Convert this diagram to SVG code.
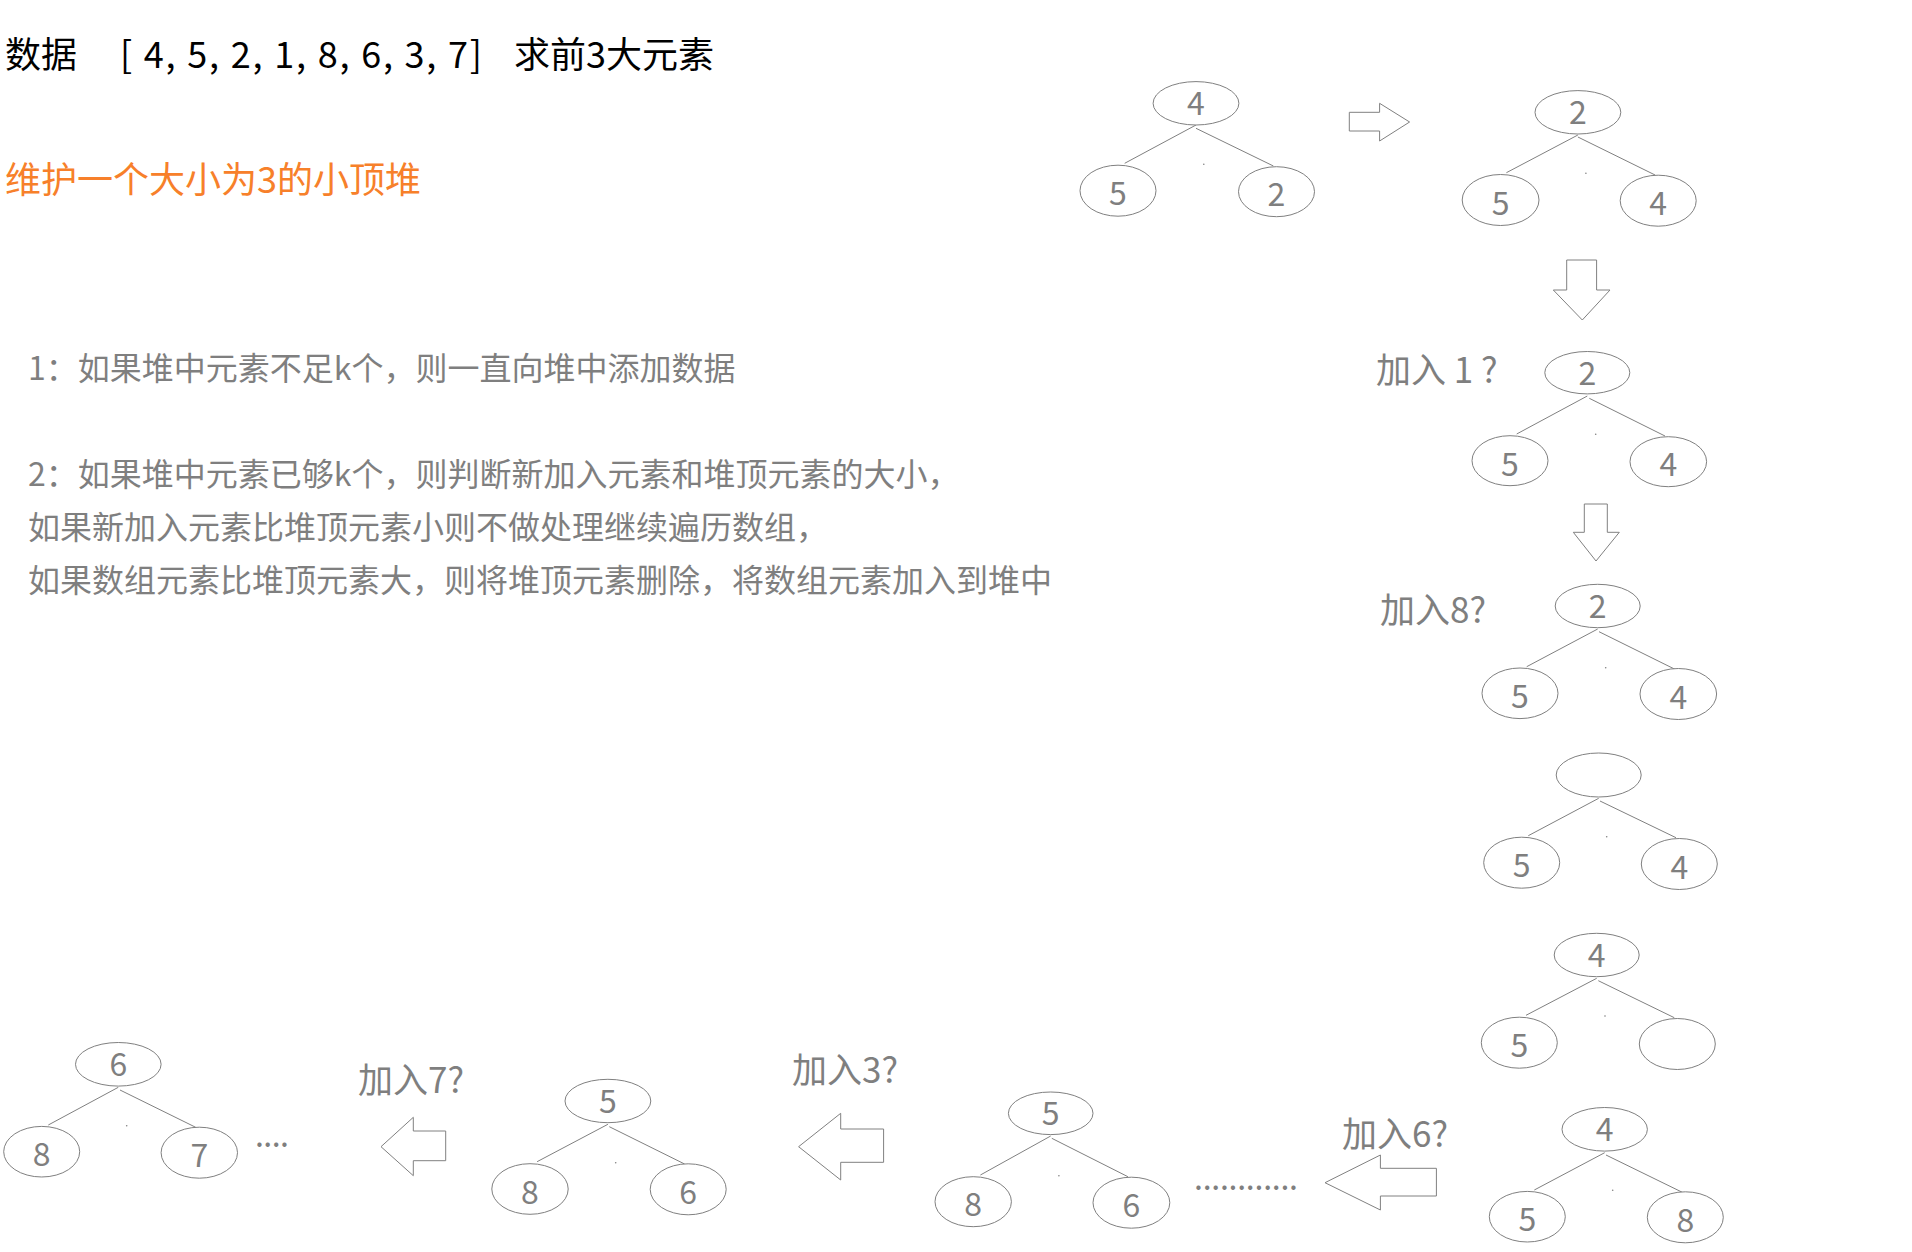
<svg xmlns="http://www.w3.org/2000/svg" width="1912" height="1252" viewBox="0 0 1912 1252">
<style>
.e{fill:#fff;stroke:#808080;stroke-width:1}
.l{stroke:#808080;stroke-width:1;fill:none}
.a{fill:#fff;stroke:#808080;stroke-width:1}
.d{fill:#808080}
.n{font-family:"Noto Sans CJK SC","Noto Sans",sans-serif;font-size:32px;fill:#7f7f7f;text-anchor:middle}
.t{font-family:"Noto Sans CJK SC","Noto Sans",sans-serif;font-size:36px;fill:#000}
.o{font-family:"Noto Sans CJK SC","Noto Sans",sans-serif;font-size:36px;fill:#f7802a}
.g{font-family:"Noto Sans CJK SC","Noto Sans",sans-serif;font-size:32px;fill:#7f7f7f}
.lb{font-family:"Noto Sans CJK SC","Noto Sans",sans-serif;font-size:35px;fill:#7f7f7f}
</style>
<rect width="1912" height="1252" fill="#fff"/>

<g id="texts">
<text class="t" x="5" y="68">数据</text>
<text class="t" x="120" y="68" textLength="362" lengthAdjust="spacing">[ 4, 5, 2, 1, 8, 6, 3, 7]</text>
<text class="t" x="514" y="68">求前3大元素</text>
<text class="o" x="5" y="193">维护一个大小为3的小顶堆</text>
<text class="g" x="28" y="380">1：如果堆中元素不足k个，则一直向堆中添加数据</text>
<text class="g" x="28" y="486">2：如果堆中元素已够k个，则判断新加入元素和堆顶元素的大小，</text>
<text class="g" x="28" y="539">如果新加入元素比堆顶元素小则不做处理继续遍历数组，</text>
<text class="g" x="28" y="592">如果数组元素比堆顶元素大，则将堆顶元素删除，将数组元素加入到堆中</text>
<text class="lb" x="1376" y="383">加入 1 ?</text>
<text class="lb" x="1380" y="623">加入8?</text>
<text class="lb" x="1342" y="1147">加入6?</text>
<text class="lb" x="792" y="1083">加入3?</text>
<text class="lb" x="358" y="1093">加入7?</text>
<text class="g" x="1194" y="1190" textLength="104" lengthAdjust="spacing">............</text>
<text class="g" x="255" y="1147" textLength="34" lengthAdjust="spacing">....</text>
</g>

<g id="connectors">
<line class="l" x1="1196" y1="125" x2="1124.7" y2="163.3"/>
<line class="l" x1="1196" y1="128.3" x2="1273.4" y2="166"/>
<line class="l" x1="1577.9" y1="135" x2="1506.4" y2="172.7"/>
<line class="l" x1="1577.9" y1="137" x2="1655.1" y2="175"/>
<line class="l" x1="1587.3" y1="396" x2="1516.7" y2="434"/>
<line class="l" x1="1589.3" y1="398.3" x2="1665" y2="436"/>
<line class="l" x1="1597.7" y1="629" x2="1526.7" y2="666.7"/>
<line class="l" x1="1599" y1="631.7" x2="1675" y2="669.3"/>
<line class="l" x1="1598.7" y1="798.3" x2="1528.3" y2="835.7"/>
<line class="l" x1="1600" y1="801" x2="1676" y2="837.7"/>
<line class="l" x1="1596.7" y1="978.3" x2="1526" y2="1015.3"/>
<line class="l" x1="1598.3" y1="980.7" x2="1674.3" y2="1017.7"/>
<line class="l" x1="1604.7" y1="1152.7" x2="1534.3" y2="1190"/>
<line class="l" x1="1606" y1="1155" x2="1682.3" y2="1192.3"/>
<line class="l" x1="1050.7" y1="1136" x2="980.4" y2="1175"/>
<line class="l" x1="1051.8" y1="1138.3" x2="1127.9" y2="1176.7"/>
<line class="l" x1="607.9" y1="1124.3" x2="537.1" y2="1161.7"/>
<line class="l" x1="609.3" y1="1126.7" x2="684.6" y2="1164"/>
<line class="l" x1="118.3" y1="1087.3" x2="48.3" y2="1125"/>
<line class="l" x1="120" y1="1090" x2="195.7" y2="1127.3"/>
<circle class="d" cx="1203.8" cy="164.3" r="0.8"/>
<circle class="d" cx="1585.9" cy="173.3" r="0.8"/>
<circle class="d" cx="1595.7" cy="434.3" r="0.8"/>
<circle class="d" cx="1605.7" cy="667.7" r="0.8"/>
<circle class="d" cx="1606.7" cy="836.7" r="0.8"/>
<circle class="d" cx="1605" cy="1016" r="0.8"/>
<circle class="d" cx="1612.7" cy="1190.3" r="0.8"/>
<circle class="d" cx="1058.9" cy="1175.7" r="0.8"/>
<circle class="d" cx="615.7" cy="1162.7" r="0.8"/>
<circle class="d" cx="126.7" cy="1125.7" r="0.8"/>
</g>

<g id="arrows">
<polygon class="a" points="1349.3,112.3 1379.6,112.3 1379.6,103.3 1409.6,122 1379.6,141 1379.6,131 1349.3,131"/>
<polygon class="a" points="1566.7,260 1596.6,260 1596.6,290 1610,290 1582.3,320 1553.3,290 1566.7,290"/>
<polygon class="a" points="1584.3,504 1607.3,504 1607.3,532.3 1619.3,532.3 1596,561 1573.3,532.3 1584.3,532.3"/>
<polygon class="a" points="1436.4,1168.3 1380.4,1168.3 1380.4,1155 1325,1182.7 1380.4,1210 1380.4,1196 1436.4,1196"/>
<polygon class="a" points="883.6,1129 840.7,1129 840.7,1113.3 798.6,1146.7 840.7,1180 840.7,1162.3 883.6,1162.3"/>
<polygon class="a" points="445.7,1131 413.3,1131 413.3,1117.3 381,1146.7 413.3,1175.7 413.3,1160.7 445.7,1160.7"/>
</g>

<g id="t1r"><ellipse class="e" cx="1196" cy="103.3" rx="42.9" ry="21.7"/><text class="n" x="1196" y="115">4</text></g>
<g id="t1a"><ellipse class="e" cx="1118" cy="190.7" rx="38" ry="25.5"/><text class="n" x="1118" y="205">5</text></g>
<g id="t1b"><ellipse class="e" cx="1276.5" cy="191.7" rx="38" ry="25"/><text class="n" x="1276.5" y="206">2</text></g>

<g id="t2r"><ellipse class="e" cx="1577.9" cy="112.3" rx="42.9" ry="21.7"/><text class="n" x="1577.9" y="124">2</text></g>
<g id="t2a"><ellipse class="e" cx="1500.6" cy="200" rx="38.4" ry="25.5"/><text class="n" x="1500.6" y="214.5">5</text></g>
<g id="t2b"><ellipse class="e" cx="1658.2" cy="200.7" rx="38" ry="25.5"/><text class="n" x="1658.2" y="215">4</text></g>

<g id="t3r"><ellipse class="e" cx="1587.3" cy="372.7" rx="42.5" ry="21.2"/><text class="n" x="1587.3" y="384.5">2</text></g>
<g id="t3a"><ellipse class="e" cx="1510" cy="460.7" rx="38" ry="25"/><text class="n" x="1510" y="475.5">5</text></g>
<g id="t3b"><ellipse class="e" cx="1668.3" cy="461.7" rx="38.3" ry="25"/><text class="n" x="1668.3" y="476">4</text></g>

<g id="t4r"><ellipse class="e" cx="1597.7" cy="606" rx="42.5" ry="21.7"/><text class="n" x="1597.7" y="617.5">2</text></g>
<g id="t4a"><ellipse class="e" cx="1520" cy="693.3" rx="38" ry="25.3"/><text class="n" x="1520" y="708">5</text></g>
<g id="t4b"><ellipse class="e" cx="1678.3" cy="694" rx="38.3" ry="25.5"/><text class="n" x="1678.3" y="708.5">4</text></g>

<g id="t5r"><ellipse class="e" cx="1598.7" cy="775" rx="42.5" ry="22"/></g>
<g id="t5a"><ellipse class="e" cx="1521.7" cy="862.7" rx="38" ry="25.5"/><text class="n" x="1521.7" y="877">5</text></g>
<g id="t5b"><ellipse class="e" cx="1679.3" cy="864" rx="38" ry="25.5"/><text class="n" x="1679.3" y="878.5">4</text></g>

<g id="t6r"><ellipse class="e" cx="1596.7" cy="955" rx="42.5" ry="21.7"/><text class="n" x="1596.7" y="966.5">4</text></g>
<g id="t6a"><ellipse class="e" cx="1519.3" cy="1042.7" rx="38" ry="25.5"/><text class="n" x="1519.3" y="1057">5</text></g>
<g id="t6b"><ellipse class="e" cx="1677.3" cy="1044" rx="38" ry="25.5"/></g>

<g id="t7r"><ellipse class="e" cx="1604.7" cy="1129.3" rx="42.7" ry="21.8"/><text class="n" x="1604.7" y="1141">4</text></g>
<g id="t7a"><ellipse class="e" cx="1527.3" cy="1216.7" rx="38" ry="25.3"/><text class="n" x="1527.3" y="1231">5</text></g>
<g id="t7b"><ellipse class="e" cx="1685.3" cy="1217.3" rx="38" ry="25.5"/><text class="n" x="1685.3" y="1231.5">8</text></g>

<g id="t8r"><ellipse class="e" cx="1050.7" cy="1113.3" rx="42.3" ry="21.3"/><text class="n" x="1050.7" y="1125">5</text></g>
<g id="t8a"><ellipse class="e" cx="973.2" cy="1201.7" rx="38.2" ry="25"/><text class="n" x="973.2" y="1216">8</text></g>
<g id="t8b"><ellipse class="e" cx="1131.4" cy="1202.7" rx="38.4" ry="25.5"/><text class="n" x="1131.4" y="1217">6</text></g>

<g id="t9r"><ellipse class="e" cx="607.9" cy="1101" rx="42.9" ry="21.7"/><text class="n" x="607.9" y="1112.5">5</text></g>
<g id="t9a"><ellipse class="e" cx="530" cy="1189" rx="38.2" ry="25.3"/><text class="n" x="530" y="1203.5">8</text></g>
<g id="t9b"><ellipse class="e" cx="688.2" cy="1189.3" rx="38" ry="25.5"/><text class="n" x="688.2" y="1204">6</text></g>

<g id="t10r"><ellipse class="e" cx="118.3" cy="1064.3" rx="42.8" ry="21.8"/><text class="n" x="118.3" y="1076">6</text></g>
<g id="t10a"><ellipse class="e" cx="41.7" cy="1151.7" rx="38" ry="25.3"/><text class="n" x="41.7" y="1166">8</text></g>
<g id="t10b"><ellipse class="e" cx="199.3" cy="1152.7" rx="38.2" ry="25.5"/><text class="n" x="199.3" y="1167">7</text></g>
</svg>
